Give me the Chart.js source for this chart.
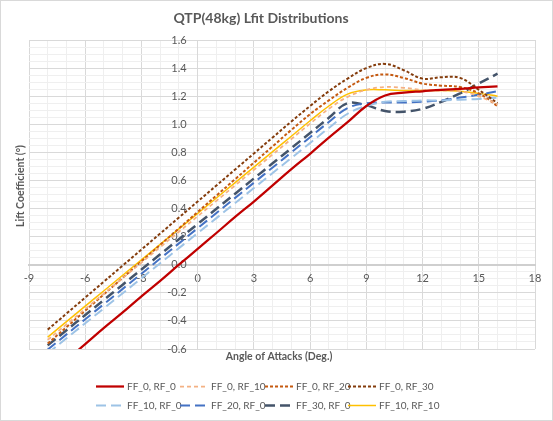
<!DOCTYPE html>
<html><head><meta charset="utf-8">
<script src="https://cdn.jsdelivr.net/npm/chart.js@4.4.0/dist/chart.umd.min.js"></script>
<style>
html,body{margin:0;padding:0;background:#fff;}
canvas{display:block;}
</style></head><body>
<canvas id="c" width="553" height="421"></canvas>
<script>
const chartTitle = "QTP(48kg) Lfit Distributions";
const xTitle = "Angle of Attacks (Deg.)";
const yTitle = "Lift Coefficient (°)";
const angles = [-8,-7,-6,-5,-4,-3,-2,-1,0,1,2,3,4,5,6,7,8,9,10,11,12,13,14,15,16];
const ff0_rf0  = [-0.79,-0.68,-0.565,-0.45,-0.34,-0.225,-0.115,0.0,0.113,0.226,0.34,0.45,0.565,0.68,0.79,0.905,1.015,1.13,1.205,1.225,1.235,1.245,1.252,1.262,1.27];
const ff0_rf10 = [-0.535,-0.425,-0.315,-0.205,-0.095,0.015,0.125,0.235,0.345,0.455,0.565,0.675,0.785,0.895,1.005,1.11,1.195,1.245,1.265,1.26,1.245,1.24,1.235,1.2,1.14];
const ff0_rf20 = [-0.561,-0.444,-0.327,-0.21,-0.093,0.024,0.141,0.258,0.375,0.492,0.609,0.726,0.843,0.96,1.072,1.17,1.26,1.33,1.355,1.33,1.29,1.275,1.265,1.22,1.13];
const ff0_rf30 = [-0.462,-0.348,-0.234,-0.12,-0.006,0.108,0.222,0.336,0.45,0.564,0.678,0.792,0.906,1.02,1.13,1.235,1.325,1.4,1.43,1.385,1.325,1.335,1.33,1.245,1.15];
const ff10_rf0 = [-0.631,-0.524,-0.417,-0.31,-0.203,-0.096,0.011,0.118,0.225,0.332,0.439,0.546,0.653,0.76,0.867,0.974,1.075,1.13,1.16,1.165,1.17,1.17,1.175,1.18,1.19];
const ff20_rf0 = [-0.604,-0.496,-0.388,-0.28,-0.172,-0.064,0.044,0.152,0.26,0.368,0.476,0.584,0.692,0.8,0.908,1.016,1.115,1.15,1.155,1.155,1.16,1.17,1.19,1.21,1.235];
const ff30_rf0 = [-0.574,-0.466,-0.358,-0.25,-0.142,-0.034,0.074,0.182,0.29,0.398,0.506,0.614,0.722,0.83,0.938,1.046,1.15,1.135,1.095,1.09,1.11,1.16,1.22,1.29,1.36];
const ff10_rf10= [-0.515,-0.405,-0.295,-0.185,-0.075,0.035,0.145,0.255,0.365,0.475,0.585,0.695,0.805,0.915,1.025,1.13,1.215,1.245,1.245,1.24,1.24,1.24,1.235,1.22,1.2];
const seriesNames = ["FF_0, RF_0","FF_0, RF_10","FF_0, RF_20","FF_0, RF_30","FF_10, RF_0","FF_20, RF_0","FF_30, RF_0","FF_10, RF_10"];
const seriesData = [ff0_rf0, ff0_rf10, ff0_rf20, ff0_rf30, ff10_rf0, ff20_rf0, ff30_rf0, ff10_rf10];
const xTickLabels = [-9,-6,-3,0,3,6,9,12,15,18];
const yTickLabels = [-0.6,-0.4,-0.2,0.0,0.2,0.4,0.6,0.8,1.0,1.2,1.4,1.6];

const styles = [
  {color:'#C00000', width:2.25, dash:[]},
  {color:'#F4B183', width:1.75, dash:[4,3]},
  {color:'#C55A11', width:2, dash:[3,2]},
  {color:'#843C0C', width:2, dash:[3,2]},
  {color:'#9DC3E6', width:2, dash:[10,5]},
  {color:'#4472C4', width:2, dash:[10,5]},
  {color:'#44546A', width:2.5, dash:[10,5]},
  {color:'#FFC000', width:1.5, dash:[]}
];
const FONT = 'Lato, "Open Sans", sans-serif';

const datasets = seriesNames.map((n,i)=>({
  label:n,
  data: angles.map((a,j)=>({x:a, y:seriesData[i][j]})),
  borderColor: styles[i].color,
  backgroundColor: styles[i].color,
  borderWidth: styles[i].width,
  borderDash: styles[i].dash,
  pointRadius:0,
  tension:0.4,
  fill:false
}));

const decor = {
  id:'decor',
  afterDraw(chart){
    const ctx = chart.ctx;
    ctx.save();
    ctx.fillStyle = '#595959';
    ctx.textAlign='center'; ctx.textBaseline='middle';
    ctx.font = 'bold 14px ' + FONT;
    ctx.fillText(chartTitle, 261, 18);
    ctx.font = 'bold 10.5px ' + FONT;
    ctx.fillText(xTitle, 279, 357);
    ctx.save();
    ctx.translate(21, 186); ctx.rotate(-Math.PI/2);
    ctx.fillText(yTitle, 0, 0);
    ctx.restore();
    const cols = [96,180,265,348];
    const rows = [386,405];
    ctx.font = '10px ' + FONT;
    ctx.textAlign='left';
    seriesNames.forEach((n,i)=>{
      const cx = cols[i%4], cy = rows[Math.floor(i/4)];
      ctx.beginPath();
      ctx.strokeStyle = styles[i].color;
      ctx.lineWidth = styles[i].width;
      ctx.setLineDash(styles[i].dash);
      ctx.moveTo(cx, cy+0.5); ctx.lineTo(cx+28, cy+0.5);
      ctx.stroke();
      ctx.setLineDash([]);
      ctx.fillStyle='#595959';
      ctx.fillText(n, cx+31, cy+1);
    });
    ctx.strokeStyle='#d9d9d9'; ctx.lineWidth=1;
    ctx.strokeRect(0.5,0.5,552,420);
    ctx.restore();
  }
};

new Chart(document.getElementById('c'), {
  type:'line',
  data:{datasets},
  options:{
    responsive:false, animation:false, devicePixelRatio:1,
    layout:{padding:{left:29,right:18,top:40,bottom:72}},
    plugins:{legend:{display:false}, title:{display:false}, tooltip:{enabled:false}},
    scales:{
      x:{
        type:'linear', position:{y:0}, min:-9, max:18,
        ticks:{stepSize:1, autoSkip:false, maxRotation:0, padding:7, color:'#595959', font:{family:FONT,size:11},
          callback:(v)=> xTickLabels.includes(v) ? String(v) : ''},
        grid:{drawTicks:false, color:(c)=> (c.tick && Math.round(c.tick.value)%3===0) ? '#d9d9d9' : '#efefef'},
        border:{color:'#cfcfcf', width:2}
      },
      y:{
        type:'linear', position:{x:0}, min:-0.6, max:1.6,
        ticks:{stepSize:0.05, autoSkip:false, padding:8, color:'#595959', font:{family:FONT,size:11},
          callback:(v)=>{const k=Math.round(v*100); return yTickLabels.some(t=>Math.round(t*100)===k) ? (k/100).toFixed(1) + '\u2002\u2002' : '';}},
        grid:{drawTicks:false, color:(c)=>{ if(!c.tick) return '#efefef'; const k=Math.round(c.tick.value*100); return Math.abs(k)%20===0 ? '#d9d9d9' : '#efefef';}},
        border:{color:'#d9d9d9', width:1}
      }
    }
  },
  plugins:[decor]
});
</script>
</body></html>
